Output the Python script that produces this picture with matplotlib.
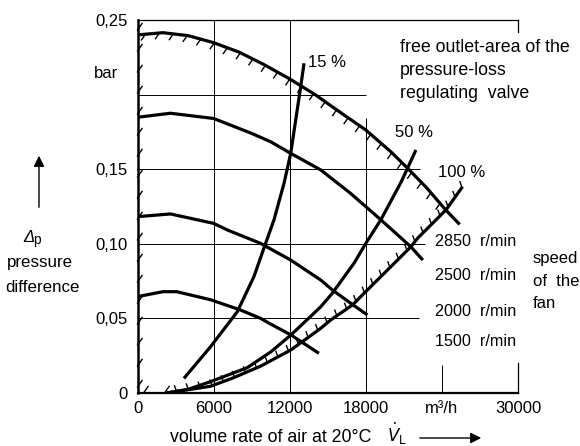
import matplotlib
matplotlib.use('Agg')
import matplotlib.pyplot as plt
import numpy as np

plt.rcParams['font.family'] = ['Liberation Sans', 'DejaVu Sans']
plt.rcParams['font.size'] = 12

# fan characteristics: pressure difference (bar) vs volume rate (m3/h)
q_2850 = [0, 2000, 4000, 6000, 8000, 10000, 12000, 14000, 16000, 18000, 20000, 21300, 22800, 24300, 25400]
p_2850 = [0.240, 0.2415, 0.2395, 0.2348, 0.2285, 0.2200, 0.2105, 0.2000, 0.1880, 0.1763, 0.1615, 0.1506, 0.1375, 0.1227, 0.1130]

q_2500 = [0, 2600, 6000, 9000, 10500, 12000, 14450, 16800, 19200, 21550, 22500]
p_2500 = [0.1848, 0.1875, 0.1840, 0.1740, 0.1684, 0.1610, 0.1495, 0.1338, 0.1160, 0.0980, 0.0891]

q_2000 = [0, 2600, 6000, 7100, 9700, 12080, 14450, 15370, 17000, 18130]
p_2000 = [0.1182, 0.1200, 0.1137, 0.1092, 0.1003, 0.0891, 0.0757, 0.0690, 0.0590, 0.0523]

q_1500 = [0, 2000, 3100, 5760, 8130, 9710, 10500, 12100, 14300]
p_1500 = [0.0646, 0.0679, 0.0679, 0.0625, 0.0556, 0.0500, 0.0462, 0.0389, 0.0266]

# system curves for the free outlet area of the regulating valve
q_15 = [3660, 5760, 7870, 9180, 10100, 10760, 11550, 12080, 12870, 13130]
p_15 = [0.0098, 0.0310, 0.0545, 0.0780, 0.1003, 0.1160, 0.1405, 0.1606, 0.2055, 0.2210]

q_50 = [2300, 4000, 5760, 8660, 10500, 12100, 14450, 15370, 17080, 18000, 19180, 20760, 21290, 21950]
p_50 = [0.0, 0.0025, 0.0076, 0.0170, 0.0275, 0.0389, 0.0578, 0.0670, 0.0871, 0.1003, 0.1160, 0.1410, 0.1506, 0.1629]

q_100 = [2300, 5760, 7500, 9710, 12080, 13000, 14450, 15240, 16950, 18000, 20500, 21550, 22080, 24320, 25630]
p_100 = [0.0, 0.0045, 0.0100, 0.0180, 0.0288, 0.0344, 0.0434, 0.0490, 0.0590, 0.0680, 0.0891, 0.0980, 0.1037, 0.1227, 0.1383]

x_ticks = [0, 6000, 12000, 18000, 24000, 30000]
x_labels = ['0', '6000', '12000', '18000', 'm³/h', '30000']
y_ticks = [0, 0.05, 0.10, 0.15, 0.25]
y_labels = ['0', '0,05', '0,10', '0,15', '0,25']

speeds = ['2850  r/min', '2500  r/min', '2000  r/min', '1500  r/min']
valve_labels = ['15 %', '50 %', '100 %']

W, H = 580, 446
fig = plt.figure(figsize=(W / 100, H / 100), dpi=100)
ax = fig.add_axes([137.5 / W, 1 - 393 / H, 380.5 / W, 373 / H])
ax.set_xlim(0, 30000)
ax.set_ylim(0, 0.25)


def fp(x, y):
    # image pixel -> figure fraction
    return x / W, 1 - y / H


# frame
ax.spines['left'].set_linewidth(1.8)
ax.spines['bottom'].set_linewidth(1.6)
ax.spines['top'].set_linewidth(0.9)
ax.spines['right'].set_linewidth(0.9)
ax.spines['right'].set_bounds(0, 0.02)
ax.plot([30000, 30000], [0.25, 0.242], color='black', lw=0.9, clip_on=False)

# partial grid
gkw = dict(color='black', lw=0.7)
ax.vlines([6000, 12000], 0, 0.25, **gkw)
ax.vlines(18000, 0, 0.184, **gkw)
ax.vlines(24000, 0, 0.019, **gkw)
ax.hlines(0.20, 0, 18000, **gkw)
ax.hlines(0.15, 0, 22300, **gkw)
ax.hlines(0.10, 0, 22700, **gkw)
ax.hlines(0.05, 0, 22200, **gkw)

ax.set_xticks(x_ticks, x_labels)
ax.set_yticks(y_ticks, y_labels)
ax.tick_params(length=0, labelsize=12)
ax.tick_params(axis='x', pad=6)
ax.tick_params(axis='y', pad=7)

ckw = dict(color='black', lw=2.3, solid_capstyle='butt')
for q, p in [(q_2850, p_2850), (q_2500, p_2500), (q_2000, p_2000), (q_1500, p_1500),
             (q_15, p_15), (q_50, p_50), (q_100, p_100)]:
    ax.plot(q, p, **ckw)


def hatch(xs, ys, step, length, angle, start=4.0):
    pts = ax.transData.transform(np.column_stack([xs, ys]))
    seg = np.hypot(*np.diff(pts, axis=0).T)
    s = np.concatenate([[0], np.cumsum(seg)])
    d = np.arange(start, s[-1], step)
    px = np.interp(d, s, pts[:, 0])
    py = np.interp(d, s, pts[:, 1])
    a = np.deg2rad(angle)
    inv = ax.transData.inverted()
    for x0, y0 in zip(px, py):
        p0 = inv.transform((x0, y0))
        p1 = inv.transform((x0 + length * np.cos(a), y0 + length * np.sin(a)))
        ax.plot([p0[0], p1[0]], [p0[1], p1[1]], color='black', lw=1.0, clip_on=False)


n_top = q_2850.index(24300) + 1
hatch(q_2850[:n_top], p_2850[:n_top], 14, 7, 235, start=8)
hatch(q_100, p_100, 12, 6, 110, start=10)
hatch([0, 0], [0, 0.245], 21, 8, 55, start=6)
hatch([0, 2300], [0, 0], 21, 8, 55, start=6)

# labels inside the chart
ax.text(14940, 0.2218, valve_labels[0], ha='center', va='center', fontsize=12)
ax.text(21800, 0.1743, valve_labels[1], ha='center', va='center', fontsize=12)
ax.text(25580, 0.1481, valve_labels[2], ha='center', va='center', fontsize=12)

for i, line in enumerate(['free outlet-area of the', 'pressure-loss', 'regulating  valve']):
    fig.text(*fp(400, 47 + 23.5 * i), line, ha='left', va='center', fontsize=12.8)

for s, y in zip(speeds, [241, 276, 311, 342]):
    fig.text(*fp(435, y), s, ha='left', va='center', fontsize=11.6)

for line, y in zip(['speed', 'of  the', 'fan'], [258, 282, 304]):
    fig.text(*fp(533, y), line, ha='left', va='center', fontsize=12)

fig.text(*fp(106, 73), 'bar', ha='center', va='center', fontsize=12)

# y axis title
fig.text(*fp(29, 238), 'Δ', ha='center', va='center', fontsize=12, fontstyle='italic')
fig.text(*fp(37, 240), 'p', ha='center', va='center', fontsize=10)
fig.text(*fp(40, 262), 'pressure', ha='center', va='center', fontsize=12.2)
fig.text(*fp(43, 287), 'difference', ha='center', va='center', fontsize=12.2)
ax.annotate('', xy=fp(39, 153), xytext=fp(39, 210), xycoords='figure fraction',
            textcoords='figure fraction',
            arrowprops=dict(arrowstyle='-|>', color='black', lw=1.0, mutation_scale=16))

# x axis title
fig.text(*fp(170, 438), 'volume rate of air at 20°C', ha='left', va='center', fontsize=12.8)
fig.text(*fp(397, 434), r'$\dot{V}_{\rm L}$', ha='center', va='center', fontsize=12)
ax.annotate('', xy=fp(484, 438), xytext=fp(417, 438), xycoords='figure fraction',
            textcoords='figure fraction',
            arrowprops=dict(arrowstyle='-|>', color='black', lw=1.0, mutation_scale=16))

fig.savefig('out.png', dpi=100)
